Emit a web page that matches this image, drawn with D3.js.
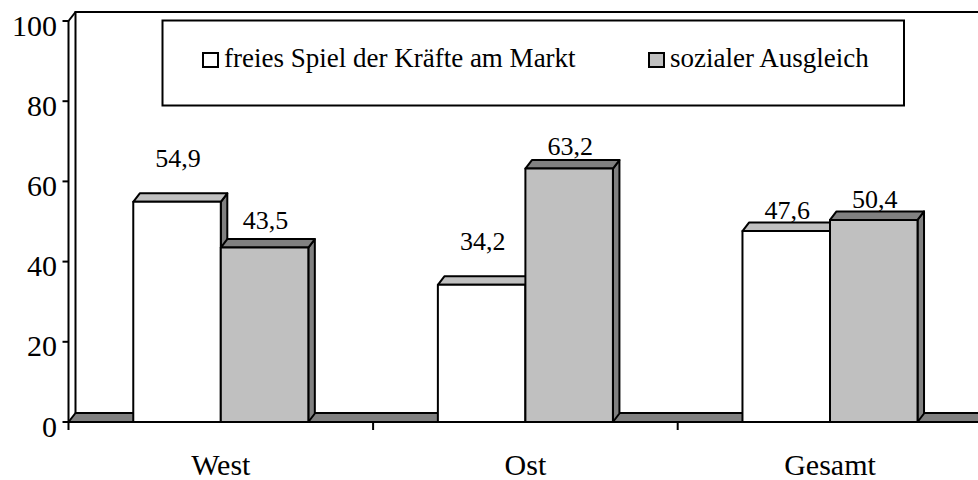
<!DOCTYPE html>
<html>
<head>
<meta charset="utf-8">
<script src="https://cdn.jsdelivr.net/npm/d3@7"></script>
<style>
  body { margin: 0; background: #fff; }
  svg text { font-family: 'Liberation Serif', 'Times New Roman', Times, 'DejaVu Serif', 'Noto Serif', FreeSerif, serif; }
</style>
</head>
<body>
<div id="chart"></div>
<script>
// data
const categories = ['West', 'Ost', 'Gesamt']
const seriesNames = ['freies Spiel der Kräfte am Markt', 'sozialer Ausgleich']
const freiesSpiel = [54.9, 34.2, 47.6]
const sozialerAusgleich = [43.5, 63.2, 50.4]
const yTicks = [0, 20, 40, 60, 80, 100]

const W = 978, H = 480
const front = ['#ffffff', '#c0c0c0']
const topFace = ['#c0c0c0', '#808080']
const sideFace = ['#808080', '#808080']

const svg = d3.select('#chart').append('svg').attr('width', W).attr('height', H)
  .style('display', 'block')

const x0 = d3.scaleBand().domain(categories).range([68.5, 982.3])
const x1 = d3.scaleBand().domain(d3.range(seriesNames.length)).range([0, x0.bandwidth()]).paddingOuter(0.74)
const y = d3.scaleLinear().domain([0, 100]).range([422, 21])

const wdx = 7, wdy = -9   // depth of walls
const bdx = 6.5, bdy = -8.5 // depth of columns
const xL = x0.range()[0]
const y0 = y(0), yTop = y(100)

const rows = categories.map((c, i) => ({ cat: c, vals: [freiesSpiel[i], sozialerAusgleich[i]] }))

// back wall edges
const wall = svg.append('g').attr('fill', 'none').attr('stroke', '#000').attr('stroke-width', 2)
wall.append('path').attr('d', `M${xL + wdx},${y0 + wdy}V${yTop + wdy}H${W + 5}`)
wall.append('path').attr('d', `M${xL},${yTop}L${xL + wdx},${yTop + wdy}`)

// floor
svg.append('path')
  .attr('d', `M${xL},${y0}L${xL + wdx},${y0 + wdy}H${W + 5}V${y0}Z`)
  .attr('fill', '#808080').attr('stroke', '#000').attr('stroke-width', 2).attr('stroke-linejoin', 'round')

// columns
const bars = svg.append('g').attr('stroke', '#000').attr('stroke-width', 2).attr('stroke-linejoin', 'round')
rows.forEach(r => {
  r.vals.forEach((v, s) => {
    const x = x0(r.cat) + x1(s), w = x1.bandwidth(), yv = y(v)
    const g = bars.append('g')
    g.append('path').attr('fill', sideFace[s])
      .attr('d', `M${x + w},${yv}L${x + w + bdx},${yv + bdy}V${y0 + bdy}L${x + w},${y0}Z`)
    g.append('path').attr('fill', topFace[s])
      .attr('d', `M${x},${yv}L${x + bdx},${yv + bdy}H${x + w + bdx}L${x + w},${yv}Z`)
    g.append('rect').attr('fill', front[s]).attr('x', x).attr('y', yv).attr('width', w).attr('height', y0 - yv)
  })
})

// value labels (distance above the column top, as placed in the original)
const labelLift = { West: [35, 19], Ost: [35, 14], Gesamt: [12, 12] }
rows.forEach(r => {
  r.vals.forEach((v, s) => {
    svg.append('text')
      .attr('x', x0(r.cat) + x1(s) + x1.bandwidth() / 2 + 1)
      .attr('y', y(v) - labelLift[r.cat][s])
      .attr('text-anchor', 'middle').attr('font-size', 26)
      .text(d3.format('.1f')(v).replace('.', ','))
  })
})

// front axes
const axes = svg.append('g').attr('stroke', '#000').attr('stroke-width', 2).attr('fill', 'none')
axes.append('path').attr('d', `M${xL},${yTop}V${y0 + 8}`)
axes.append('path').attr('d', `M${xL},${y0}H${W + 5}`)
yTicks.forEach(t => axes.append('path').attr('d', `M${xL - 6},${y(t)}H${xL}`))
categories.slice(1).forEach(c => axes.append('path').attr('d', `M${x0(c)},${y0}V${y0 + 8}`))

svg.append('g').selectAll('text').data(yTicks).join('text')
  .attr('x', 57).attr('y', d => y(d) + 14.5)
  .attr('text-anchor', 'end').attr('font-size', 30)
  .text(d => d)

svg.append('g').selectAll('text').data(categories).join('text')
  .attr('x', d => x0(d) + x0.bandwidth() / 2).attr('y', 475)
  .attr('text-anchor', 'middle').attr('font-size', 30)
  .text(d => d)

// legend
const lg = svg.append('g')
lg.append('rect').attr('x', 162.5).attr('y', 20.5).attr('width', 741.5).attr('height', 85)
  .attr('fill', '#fff').attr('stroke', '#000').attr('stroke-width', 2)
const legendX = [203, 649]
seriesNames.forEach((n, s) => {
  lg.append('rect').attr('x', legendX[s]).attr('y', 53).attr('width', 15).attr('height', 14)
    .attr('fill', front[s]).attr('stroke', '#000').attr('stroke-width', 2)
  lg.append('text').attr('x', legendX[s] + 21).attr('y', 67)
    .attr('font-size', 27).text(n)
})
</script>
</body>
</html>
